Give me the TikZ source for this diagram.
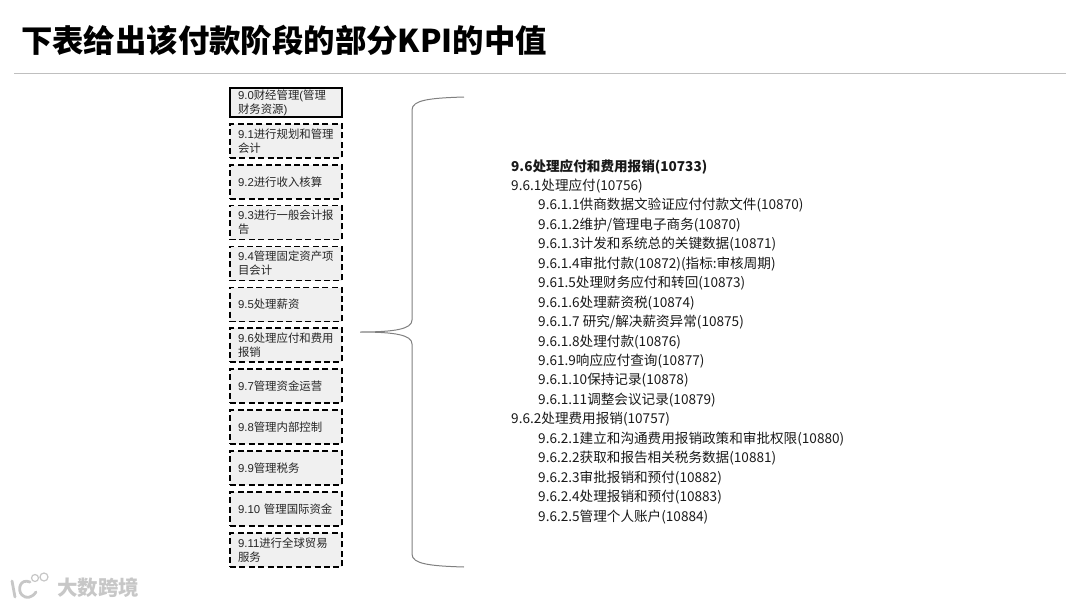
\documentclass[tikz,border=0pt]{standalone}
\usepackage{fontspec}
\setmainfont{Noto Sans CJK SC}
\newfontfamily\boxlatin{Liberation Sans}
\newcommand{\nm}[1]{{\boxlatin #1}}
\usetikzlibrary{positioning}

\begin{document}
\begin{tikzpicture}[
  x=1pt, y=-1pt,
  processbox/.style={draw=black, fill=black!6, line width=1.5pt, inner sep=0pt,
                     minimum width=112pt, minimum height=34pt, text width=96pt,
                     align=left, text=black!85,
                     font=\fontsize{11.4}{14}\selectfont},
  groupbox/.style={processbox, dash pattern=on 6pt off 3.4pt},
  rootbox/.style={processbox, minimum height=29pt},
  bracket/.style={draw=black!50, line width=1pt},
  logoline/.style={draw=black!22, line width=2.8pt, line cap=round}
]
\useasboundingbox (0,0) rectangle (1080,608);

% ---------------- title ----------------
\node[anchor=west, inner sep=0pt, font=\fontsize{31.4}{38}\selectfont\bfseries] (title) at (21,40)
  {下表给出该付款阶段的部分KPI的中值};
\coordinate (ruleleft) at (14,73);
\coordinate (ruleright) at (1066,73);
\draw[draw=black!25, line width=0.8pt] (ruleleft) -- (ruleright);

% ---------------- process column ----------------
\node[rootbox] (b90) at (286,102.5) {\nm{9.0}财经管理\nm{(}管理\\财务资源\nm{)}};
\node[groupbox] (b91) at (286,141) {\nm{9.1}进行规划和管理\\会计};
\node[groupbox] (b92) at (286,182) {\nm{9.2}进行收入核算};
\node[groupbox] (b93) at (286,222.5) {\nm{9.3}进行一般会计报\\告};
\node[groupbox] (b94) at (286,263.5) {\nm{9.4}管理固定资产项\\目会计};
\node[groupbox] (b95) at (286,304.5) {\nm{9.5}处理薪资};
\node[groupbox] (b96) at (286,345) {\nm{9.6}处理应付和费用\\报销};
\node[groupbox] (b97) at (286,386) {\nm{9.7}管理资金运营};
\node[groupbox] (b98) at (286,427) {\nm{9.8}管理内部控制};
\node[groupbox] (b99) at (286,468) {\nm{9.9}管理税务};
\node[groupbox] (b910) at (286,509) {\nm{9.10} 管理国际资金};
\node[groupbox] (b911) at (286,550) {\nm{9.11}进行全球贸易\\服务};

% ---------------- bracket ----------------
\coordinate (tiptop) at (464,97);
\coordinate (tip) at (360,332);
\coordinate (tipbottom) at (464,567);
\draw[bracket] (tiptop) .. controls (430,98) and (412,100) .. (412,110)
  -- (412,320) .. controls (412,329) and (395,332) .. (tip)
  .. controls (395,332) and (412,335) .. (412,344)
  -- (412,554) .. controls (412,564) and (430,566) .. (tipbottom);

% ---------------- kpi list ----------------
\node[anchor=north west, inner sep=0pt, align=left, text=black!90,
      font=\fontsize{13.6}{19.45}\selectfont] (kpis) at (511,159)
  {\textbf{9.6处理应付和费用报销(10733)}\\
   9.6.1处理应付(10756)\\
   \hspace*{27pt}9.6.1.1供商数据文验证应付付款文件(10870)\\
   \hspace*{27pt}9.6.1.2维护/管理电子商务(10870)\\
   \hspace*{27pt}9.6.1.3计发和系统总的关键数据(10871)\\
   \hspace*{27pt}9.6.1.4审批付款(10872)(指标:审核周期)\\
   \hspace*{27pt}9.61.5处理财务应付和转回(10873)\\
   \hspace*{27pt}9.6.1.6处理薪资税(10874)\\
   \hspace*{27pt}9.6.1.7 研究/解决薪资异常(10875)\\
   \hspace*{27pt}9.6.1.8处理付款(10876)\\
   \hspace*{27pt}9.61.9响应应付查询(10877)\\
   \hspace*{27pt}9.6.1.10保持记录(10878)\\
   \hspace*{27pt}9.6.1.11调整会议记录(10879)\\
   9.6.2处理费用报销(10757)\\
   \hspace*{27pt}9.6.2.1建立和沟通费用报销政策和审批权限(10880)\\
   \hspace*{27pt}9.6.2.2获取和报告相关税务数据(10881)\\
   \hspace*{27pt}9.6.2.3审批报销和预付(10882)\\
   \hspace*{27pt}9.6.2.4处理报销和预付(10883)\\
   \hspace*{27pt}9.6.2.5管理个人账户(10884)};

% ---------------- watermark ----------------
\draw[logoline] (12,581) -- (15,597);
\draw[logoline] (30,582) .. controls (20,578) and (17,590) .. (22,595)
  .. controls (26,599) and (32,598) .. (36,592);
\draw[draw=black!22, line width=1.2pt] (35,578) circle (3.5pt) (44,577) circle (4pt);
\node[anchor=west, inner sep=0pt, text=black!22, font=\fontsize{20.5}{24}\selectfont\bfseries] (brand) at (57,588)
  {大数跨境};

\end{tikzpicture}
\end{document}
